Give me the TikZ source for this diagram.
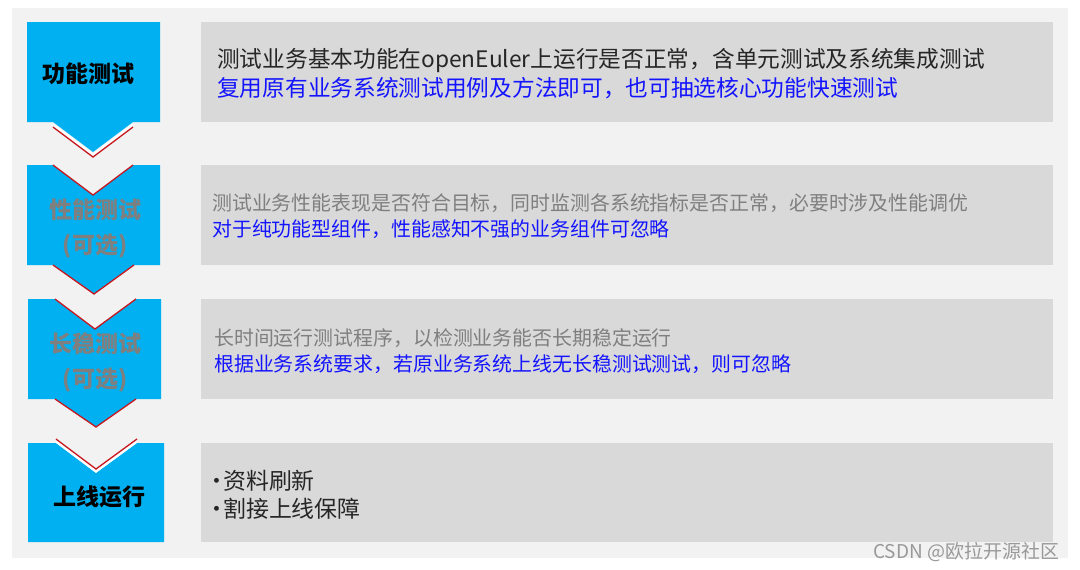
\documentclass[tikz,border=0pt]{standalone}
\usepackage{fontspec}
\setmainfont{Noto Sans CJK SC}
\usepackage{tikz}

\definecolor{panelgray}{HTML}{F2F2F2}
\definecolor{boxgray}{HTML}{D9D9D9}
\definecolor{stageblue}{HTML}{00B0F0}
\definecolor{edgered}{HTML}{C8161E}
\definecolor{optgray}{HTML}{7F7F7F}
\definecolor{hintblue}{HTML}{1414FF}
\definecolor{markgray}{HTML}{999999}

\newcommand{\dotitem}{\hbox to 13pt{\hss•\hss}}

\begin{document}
\begin{tikzpicture}
	 [x=1pt,y=-1pt,every node/.style={inner sep=0pt},
	  chev/.style={fill=stageblue},
	  redge/.style={draw=edgered,line width=1.3pt},
	  wedge/.style={draw=white,line width=2.2pt},
	  stagetext/.style={font=\bfseries\fontsize{23}{35}\selectfont,align=center},
	  info/.style={anchor=west,font=\fontsize{19.9}{24}\selectfont}]

	\useasboundingbox (0,0) rectangle (1080,570);
	\fill[panelgray] (12,8) rectangle (1068,558);

	\foreach \ya/\yb in {22/122,165/265,299/399,443/542}
    \fill[boxgray] (201,\ya) rectangle (1053,\yb);

	  \fill[chev] (27,22) -- (160,22) -- (160,122) -- (133,122) -- (93,152) -- (53,122) -- (27,122) -- cycle;
	  \draw[wedge] (53,124.5) -- (93,154.5) -- (133,124.5);
	  \draw[redge] (53,127) -- (93,157) -- (133,127);

	  \fill[chev] (27,165) -- (53,165) -- (93,195) -- (133,165) -- (160,165) -- (160,265) -- (134,265) -- (94,294) -- (53,265) -- (27,265) -- cycle;
	  \draw[redge] (53,165) -- (93,195) -- (133,165);
	  \draw[redge] (53,265) -- (94,294) -- (134,265);

	  \fill[chev] (28,299) -- (55,299) -- (95,329) -- (136,299) -- (161,299) -- (161,399) -- (136,399) -- (96,427) -- (55,399) -- (28,399) -- cycle;
	  \draw[redge] (55,299) -- (95,329) -- (136,299);
	  \draw[redge] (55,399) -- (96,427) -- (136,399);

	  \fill[chev] (28,443) -- (56,443) -- (96,473) -- (137,443) -- (164,443) -- (164,542) -- (28,542) -- cycle;
	  \draw[wedge] (56,441.5) -- (96,471.5) -- (137,441.5);
	  \draw[redge] (56,439) -- (96,469) -- (137,439);

	  \node[stagetext] (s1) at (88,74) {功能测试};
	  \node[stagetext,text=optgray] (s2) at (95,228.5) {性能测试\\(可选)};
	  \node[stagetext,text=optgray] (s3) at (95,362) {长稳测试\\(可选)};
	  \node[stagetext] (s4) at (99,497) {上线运行};

	  \node[info,font=\fontsize{22.7}{26}\selectfont,text=black!85] (d1a) at (217,61) {测试业务基本功能在openEuler上运行是否正常，含单元测试及系统集成测试};
	  \node[info,font=\fontsize{22.7}{26}\selectfont,text=hintblue] (d1b) at (217,88) {复用原有业务系统测试用例及方法即可，也可抽选核心功能快速测试};
	  \node[info,text=optgray] (d2a) at (212,203) {测试业务性能表现是否符合目标，同时监测各系统指标是否正常，必要时涉及性能调优};
	  \node[info,text=hintblue] (d2b) at (212,229) {对于纯功能型组件，性能感知不强的业务组件可忽略};
	  \node[info,text=optgray] (d3a) at (214,338) {长时间运行测试程序，以检测业务能否长期稳定运行};
	  \node[info,text=hintblue] (d3b) at (214,364) {根据业务系统要求，若原业务系统上线无长稳测试测试，则可忽略};
	  \node[info,font=\fontsize{22.9}{26}\selectfont,text=black!85] (d4a) at (210,481) {\dotitem 资料刷新};
	  \node[info,font=\fontsize{22.9}{26}\selectfont,text=black!85] (d4b) at (210,509) {\dotitem 割接上线保障};

	  \node[info,font=\fontsize{19}{22}\selectfont,text=markgray] (mark) at (873,552) {CSDN @欧拉开源社区};

\end{tikzpicture}
\end{document}
